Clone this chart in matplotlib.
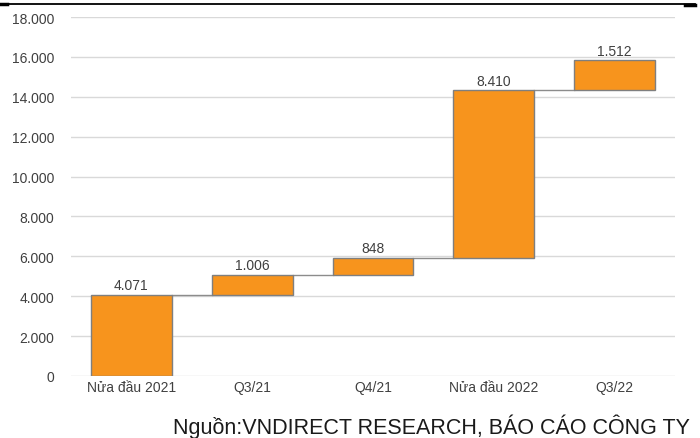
import matplotlib
matplotlib.use("Agg")
import matplotlib.pyplot as plt
from matplotlib.lines import Line2D

categories = ["Nửa đầu 2021", "Q3/21", "Q4/21", "Nửa đầu 2022", "Q3/22"]
increments = [4071, 1006, 848, 8410, 1512]
y_ticks = [0, 2000, 4000, 6000, 8000, 10000, 12000, 14000, 16000, 18000]
source_text = "Nguồn:VNDIRECT RESEARCH, BÁO CÁO CÔNG TY"

def fmt(v):
    return f"{v:,.0f}".replace(",", ".")

plt.rcParams["font.family"] = ["Liberation Sans", "DejaVu Sans"]

fig = plt.figure(figsize=(7.0, 4.39), dpi=100)
ax = fig.add_axes([71 / 700, 1 - 377 / 439, (675 - 71) / 700, (377 - 18) / 439])

# waterfall: each bar starts where the previous one ended
bases = []
running = 0
for v in increments:
    bases.append(running)
    running += v

x = list(range(len(categories)))
width = 0.67
ax.bar(x, increments, bottom=bases, width=width, color="#F7941D",
       edgecolor="#7F7F7F", linewidth=1.0, zorder=3)

# connectors between consecutive bars
for i in range(len(increments) - 1):
    top = bases[i] + increments[i]
    ax.plot([i + width / 2, i + 1 - width / 2], [top, top],
            color="#8C8C8C", linewidth=1.0, zorder=2)

# value labels above bars
for i, v in enumerate(increments):
    ax.text(i, bases[i] + v + 120, fmt(v), ha="center", va="bottom",
            fontsize=10, color="#404040", zorder=4)

ax.set_xlim(-0.5, len(categories) - 0.5)
ax.set_ylim(0, 18000)
ax.set_yticks(y_ticks)
ax.set_yticklabels([fmt(t) for t in y_ticks], fontsize=10, color="#404040")
ax.set_xticks(x)
ax.set_xticklabels(categories, fontsize=10, color="#404040")
ax.tick_params(axis="both", length=0)
ax.tick_params(axis="x", pad=3)
ax.tick_params(axis="y", pad=12)
ax.grid(axis="y", color="#D9D9D9", linewidth=1.0, zorder=0)
for s in ax.spines.values():
    s.set_visible(False)

# page rule at the top
fig.add_artist(Line2D([0, 695 / 700], [1 - 4.5 / 439] * 2, color="black",
                      linewidth=1.3, transform=fig.transFigure))
fig.add_artist(Line2D([0, 7 / 700], [1 - 5 / 439] * 2, color="black",
                      linewidth=2.5, transform=fig.transFigure))
fig.add_artist(Line2D([685 / 700, 695 / 700], [1 - 5.5 / 439] * 2, color="black",
                      linewidth=2.5, transform=fig.transFigure))

fig.text(690 / 700, 1 - 427 / 439, source_text, ha="right", va="center",
         fontsize=15.5, color="#1A1A1A")

fig.savefig("out.png", dpi=100)
